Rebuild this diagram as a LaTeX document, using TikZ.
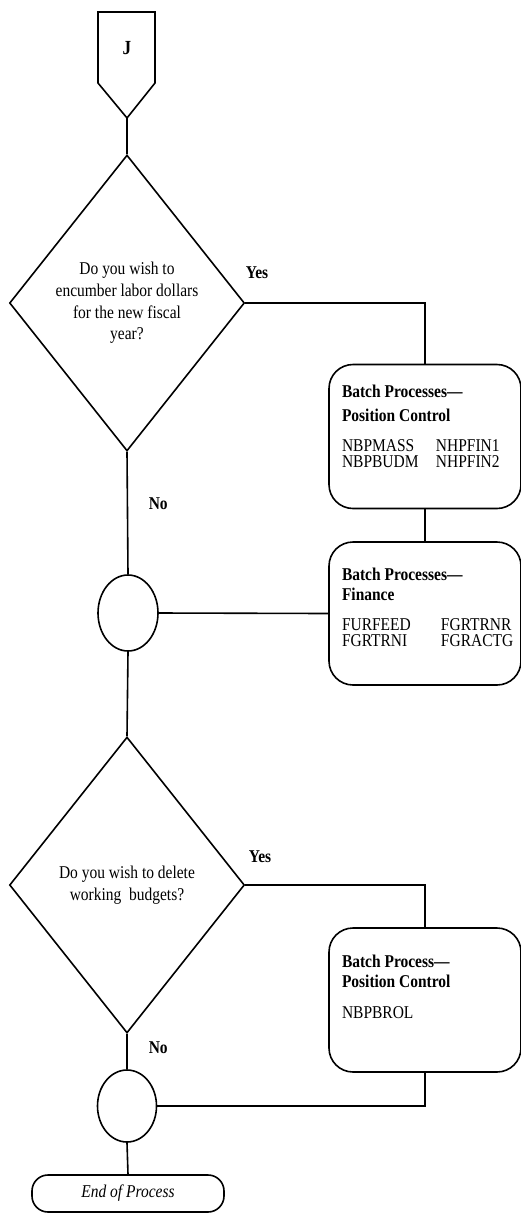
\documentclass[tikz,border=0pt]{standalone}
\usepackage{fontspec}
\setmainfont{Liberation Serif}[FakeStretch=0.86]
\usetikzlibrary{calc,positioning,shapes.geometric}

\begin{document}
\begin{tikzpicture}[
    x=1pt, y=-1pt,
    line width=1.6pt,
    font=\fontsize{18}{16}\selectfont,
    decision/.style={draw, diamond, minimum width=235pt, minimum height=296pt,
      inner sep=0pt, align=center, font=\fontsize{18}{21.7}\selectfont},
    batch/.style={draw, rounded corners=24pt, minimum width=192pt, minimum height=144pt},
    batchtext/.style={anchor=north west, inner sep=0pt, align=left},
    merge/.style={draw, ellipse, minimum width=60pt, minimum height=76pt, inner sep=0pt},
    terminal/.style={draw, rounded corners=16pt, minimum width=192pt, minimum height=37pt,
      font=\fontsize{18}{16}\selectfont\itshape},
    answer/.style={anchor=base west, inner sep=0pt, font=\fontsize{18}{16}\selectfont\bfseries}
  ]
    \useasboundingbox (0,0) rectangle (521,1213);

    % off-page connector
    \node[font=\fontsize{20}{16}\selectfont\bfseries] (J) at (127,48) {J};
    \draw (98,12) -- (155,12) -- (155,83) -- (127,118) coordinate (Jtip) -- (98,83) -- cycle;

    \node[decision] (encumber) at (127,303) {Do you wish to\\encumber labor dollars\\for the new fiscal\\year?};
    \node[batch] (pcbox) at (425,436.5) {};
    \node[batch, minimum height=143pt] (finbox) at (425,613.5) {};
    \node[merge] (merge1) at (128,613) {};

    \node[decision] (delete) at (127,885) {Do you wish to delete\\working\ \ budgets?};
    \node[batch] (rolbox) at (425,1000) {};
    \node[merge, minimum width=59pt, minimum height=72pt] (merge2) at (127,1106) {};
    \node[terminal] (endproc) at (128,1193.5) {End of Process};

    \node[batchtext] (pctext) at ($(pcbox.north west)+(13,21)$)
      {\textbf{Batch Processes—}\\[8pt]\textbf{Position Control}\\[14pt]
       \makebox[94pt][l]{NBPMASS}NHPFIN1\\\makebox[94pt][l]{NBPBUDM}NHPFIN2};
    \node[batchtext] (fintext) at ($(finbox.north west)+(13,26)$)
      {\textbf{Batch Processes—}\\[4pt]\textbf{Finance}\\[14pt]
       \makebox[99pt][l]{FURFEED}FGRTRNR\\\makebox[99pt][l]{FGRTRNI}FGRACTG};
    \node[batchtext] (roltext) at ($(rolbox.north west)+(13,27)$)
      {\textbf{Batch Process—}\\[4pt]\textbf{Position Control}\\[15pt]NBPBROL};

    \node[answer] (yes1) at (245,278) {Yes};
    \node[answer] (no1) at (148,509) {No};
    \node[answer] (yes2) at (248,862) {Yes};
    \node[answer] (no2) at (148,1053) {No};

    \draw (Jtip) -- (encumber.north);
    \draw (encumber.east) -| (pcbox.north);
    \draw (pcbox.south) -- (finbox.north);
    \draw (finbox.west) -- (merge1.east);
    \draw (encumber.south) -- (merge1.north);
    \draw (merge1.south) -- (delete.north);
    \draw (delete.east) -| (rolbox.north);
    \draw (merge2.east) -| (rolbox.south);
    \draw (delete.south) -- (merge2.north);
    \draw (merge2.south) -- (endproc.north);
\end{tikzpicture}
\end{document}
